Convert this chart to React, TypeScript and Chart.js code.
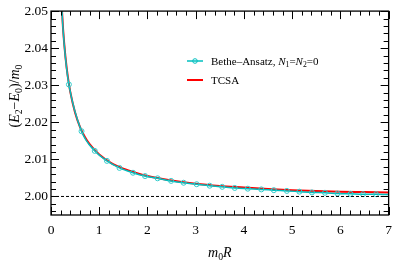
import { useEffect, useRef } from "react";
import { Chart, registerables } from "chart.js";
Chart.register(...registerables);

// Bethe-Ansatz series (N1 = N2 = 0)
const baX = [0.2, 0.25, 0.3, 0.371, 0.633, 0.907, 1.16, 1.42, 1.7, 1.95, 2.21, 2.49, 2.75, 3.02, 3.29, 3.55, 3.81, 4.08, 4.36, 4.62, 4.89, 5.15, 5.41, 5.68, 5.94, 6.21, 6.47, 6.74, 7.0];
const baY = [2.0565, 2.045, 2.0374, 2.0302, 2.0176, 2.0123, 2.0096, 2.0077, 2.0064, 2.0055, 2.0049, 2.0042, 2.0037, 2.0033, 2.0029, 2.0026, 2.0023, 2.0021, 2.0019, 2.0017, 2.0015, 2.0013, 2.0011, 2.001, 2.0008, 2.0007, 2.0006, 2.0006, 2.0005];
const baMarker = [false, false, false, true, true, true, true, true, true, true, true, true, true, true, true, true, true, true, true, true, true, true, true, true, true, true, true, true, false];

// TCSA series
const tcsaX = [0.2, 0.25, 0.3, 0.35, 0.4, 0.5, 0.6, 0.7, 0.8, 1.0, 1.25, 1.5, 1.75, 2.0, 2.5, 3.0, 3.5, 4.0, 4.5, 5.0, 5.5, 6.0, 6.5, 7.0];
const tcsaY = [2.0565, 2.0452, 2.0376, 2.0322, 2.0282, 2.0226, 2.0188, 2.0161, 2.0141, 2.0113, 2.009, 2.0075, 2.0064, 2.0055, 2.0043, 2.0034, 2.0028, 2.0024, 2.002, 2.0017, 2.0015, 2.0013, 2.0012, 2.0011];

// reference line
const refX = [0, 7];
const refY = [2.0, 2.0];

const xTicks = [0, 1, 2, 3, 4, 5, 6, 7];
const xTickLabels = ["0", "1", "2", "3", "4", "5", "6", "7"];
const yTicks = [2.0, 2.01, 2.02, 2.03, 2.04, 2.05];
const yTickLabels = ["2.00", "2.01", "2.02", "2.03", "2.04", "2.05"];

const CYAN = "#00BFBF";
const RED = "#FF0000";
const SERIF = "'Liberation Serif', 'DejaVu Serif', serif";

type Seg = { t: string; it?: boolean; sub?: boolean };

function segWidth(ctx: CanvasRenderingContext2D, segs: Seg[], fs: number) {
  let w = 0;
  for (const s of segs) {
    const size = s.sub ? fs * 0.7 : fs;
    ctx.font = `${s.it ? "italic " : ""}${size}px ${SERIF}`;
    w += ctx.measureText(s.t).width;
  }
  return w;
}

function drawSegs(ctx: CanvasRenderingContext2D, segs: Seg[], x: number, y: number, fs: number) {
  let cx = x;
  ctx.textBaseline = "alphabetic";
  ctx.textAlign = "left";
  for (const s of segs) {
    const size = s.sub ? fs * 0.7 : fs;
    ctx.font = `${s.it ? "italic " : ""}${size}px ${SERIF}`;
    ctx.fillText(s.t, cx, s.sub ? y + fs * 0.22 : y);
    cx += ctx.measureText(s.t).width;
  }
}

const decorPlugin = {
  id: "decor",
  afterDatasetsDraw(chart: any) {
    const { ctx, chartArea } = chart;
    const xs = chart.scales.x;
    const ys = chart.scales.y;
    const { left, right, top, bottom } = chartArea;
    ctx.save();
    ctx.strokeStyle = "#000";
    ctx.lineWidth = 1;
    // ticks
    ctx.beginPath();
    for (let i = 0; i <= 35; i++) {
      const v = i * 0.2;
      const px = Math.round(xs.getPixelForValue(v)) + 0.5;
      const major = i % 5 === 0;
      const len = major ? 8 : 4.5;
      ctx.moveTo(px, bottom);
      ctx.lineTo(px, bottom - len);
      ctx.moveTo(px, top);
      ctx.lineTo(px, top + len);
    }
    for (let i = -2; i <= 25; i++) {
      const v = 2.0 + i * 0.002;
      const py = Math.round(ys.getPixelForValue(v)) + 0.5;
      if (py < top - 0.5 || py > bottom + 0.5) continue;
      const major = i % 5 === 0;
      const len = major ? 8 : 5;
      ctx.moveTo(left, py);
      ctx.lineTo(left + len, py);
      ctx.moveTo(right, py);
      ctx.lineTo(right - len, py);
    }
    ctx.stroke();
    // frame
    ctx.lineWidth = 1.3;
    ctx.strokeRect(left, top, right - left, bottom - top);

    ctx.fillStyle = "#000";
    // x title
    const fs = 14;
    const xt: Seg[] = [{ t: "m", it: true }, { t: "0", sub: true }, { t: "R", it: true }];
    const xw = segWidth(ctx, xt, fs);
    drawSegs(ctx, xt, (left + right) / 2 - xw / 2, 257, fs);
    // y title
    const yt: Seg[] = [
      { t: "(" }, { t: "E", it: true }, { t: "2", sub: true }, { t: "\u2212" },
      { t: "E", it: true }, { t: "0", sub: true }, { t: ")/" }, { t: "m", it: true }, { t: "0", sub: true },
    ];
    const yw = segWidth(ctx, yt, fs);
    ctx.save();
    ctx.translate(19, 96);
    ctx.rotate(-Math.PI / 2);
    drawSegs(ctx, yt, -yw / 2, 0, fs);
    ctx.restore();

    // legend
    const lfs = 11;
    const lx0 = 187, lx1 = 203;
    const ly1 = 61, ly2 = 80;
    ctx.strokeStyle = CYAN;
    ctx.lineWidth = 1.5;
    ctx.beginPath();
    ctx.moveTo(lx0, ly1);
    ctx.lineTo(lx1, ly1);
    ctx.stroke();
    ctx.lineWidth = 1;
    ctx.beginPath();
    ctx.arc((lx0 + lx1) / 2, ly1, 2.3, 0, Math.PI * 2);
    ctx.stroke();
    ctx.strokeStyle = RED;
    ctx.lineWidth = 2;
    ctx.beginPath();
    ctx.moveTo(lx0, ly2);
    ctx.lineTo(lx1, ly2);
    ctx.stroke();
    ctx.fillStyle = "#000";
    const l1: Seg[] = [
      { t: "Bethe\u2013Ansatz, " }, { t: "N", it: true }, { t: "1", sub: true }, { t: "=" },
      { t: "N", it: true }, { t: "2", sub: true }, { t: "=0" },
    ];
    drawSegs(ctx, l1, 211, ly1 + 3.7, lfs);
    drawSegs(ctx, [{ t: "TCSA" }], 211, ly2 + 3.7, lfs);
    ctx.restore();
  },
};

export default function App() {
  const ref = useRef<HTMLCanvasElement | null>(null);
  useEffect(() => {
    document.body.style.margin = "0";
    const canvas = ref.current;
    if (!canvas) return;
    const chart = new Chart(canvas, {
      type: "line",
      data: {
        datasets: [
          {
            label: "ref",
            data: refX.map((x, i) => ({ x, y: refY[i] })),
            borderColor: "#000",
            borderWidth: 1,
            borderDash: [3, 2],
            pointRadius: 0,
          },
          {
            label: "Bethe-Ansatz",
            data: baX.map((x, i) => ({ x, y: baY[i] })),
            borderColor: CYAN,
            borderWidth: 1.5,
            cubicInterpolationMode: "monotone",
            pointRadius: baMarker.map((m) => (m ? 2.5 : 0)),
            pointBorderColor: "#33CCCC",
            pointBackgroundColor: "rgba(0,0,0,0)",
            pointBorderWidth: 1,
          },
          {
            label: "TCSA",
            data: tcsaX.map((x, i) => ({ x, y: tcsaY[i] })),
            borderColor: RED,
            borderWidth: 2,
            cubicInterpolationMode: "monotone",
            pointRadius: 0,
          },
        ],
      } as any,
      options: {
        animation: false,
        responsive: false,
        maintainAspectRatio: false,
        devicePixelRatio: 1,
        layout: { padding: { left: 0, right: 9, top: 6, bottom: 0 } },
        plugins: { legend: { display: false }, tooltip: { enabled: false } },
        scales: {
          x: {
            type: "linear",
            min: 0,
            max: 7,
            grid: { display: false, drawTicks: false },
            border: { display: false },
            afterBuildTicks: (s: any) => {
              s.ticks = xTicks.map((v) => ({ value: v }));
            },
            afterFit: (s: any) => {
              s.height = 49;
            },
            ticks: {
              color: "#000",
              padding: 7,
              maxRotation: 0,
              font: { family: SERIF, size: 13.5 },
              callback: (v: any) => {
                const i = xTicks.indexOf(Number(v));
                return i >= 0 ? xTickLabels[i] : "";
              },
            },
          },
          y: {
            type: "linear",
            min: 1.995,
            max: 2.05,
            grid: { display: false, drawTicks: false },
            border: { display: false },
            afterBuildTicks: (s: any) => {
              s.ticks = yTicks.map((v) => ({ value: v }));
            },
            afterFit: (s: any) => {
              s.width = 51;
            },
            ticks: {
              color: "#000",
              padding: 3,
              font: { family: SERIF, size: 13.5 },
              callback: (v: any) => {
                const i = yTicks.findIndex((t) => Math.abs(t - Number(v)) < 1e-9);
                return i >= 0 ? yTickLabels[i] : "";
              },
            },
          },
        },
      } as any,
      plugins: [decorPlugin],
    });
    return () => chart.destroy();
  }, []);
  return (
    <div style={{ width: 399, height: 264 }}>
      <canvas ref={ref} width={399} height={264} style={{ display: "block" }} />
    </div>
  );
}
